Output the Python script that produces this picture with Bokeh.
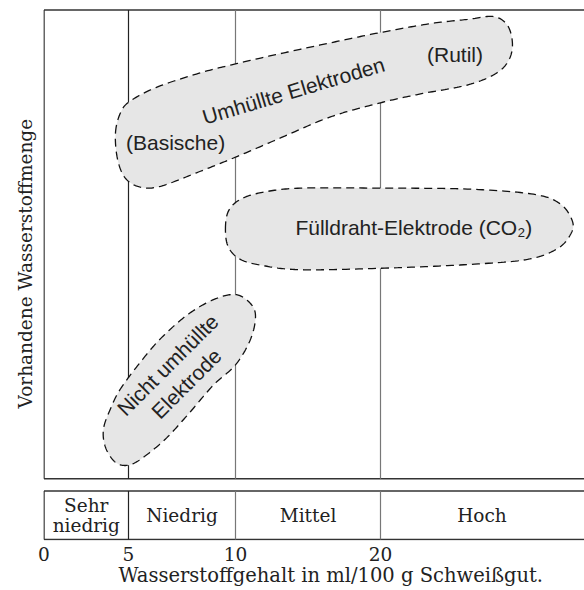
import numpy as np
from bokeh.plotting import figure
from bokeh.models import Range1d, FixedTicker, Title
from bokeh.core.properties import value
from bokeh.embed import file_html
from bokeh.resources import INLINE

# ---------------- data ----------------
# x axis: hydrogen content (ml/100 g weld metal), printed on a non-linear scale
TICK_VALUES = [0, 5, 10, 20]
TICK_LABELS = ["0", "5", "10", "20"]
SCALE_VALUES = [0, 5, 10, 20, 40]          # value -> position on printed scale
SCALE_POS = [0.0, 84.5, 191.5, 336.5, 626.5]

CLASS_NAMES = ["Sehr\nniedrig", "Niedrig", "Mittel", "Hoch"]
CLASS_BOUNDS = [0, 5, 10, 20, 34]

# regions (x = ml/100 g, y = relative available hydrogen 0..100)
COATED_X = [4.23, 4.53, 5.09, 6.36, 8.36, 10.0, 13.1, 16.55, 20.0, 23.45, 26.0, 27.8,
            28.76, 29.1, 28.83, 27.93, 26.0, 22.76, 20.0, 16.55, 13.1, 10.0, 8.36,
            6.5, 5.56, 4.82, 4.35]
COATED_Y = [73.8, 78.1, 80.6, 83.6, 86.6, 88.5, 90.7, 93.0, 95.2, 97.1, 98.0, 98.6,
            96.7, 92.8, 89.2, 86.4, 84.0, 82.1, 80.2, 77.2, 72.7, 68.6, 65.6,
            62.4, 62.2, 64.1, 68.2]

FLUX_X = [9.53, 9.67, 10.34, 11.86, 14.48, 20.0, 26.0, 30.55, 32.41, 33.24, 33.1, 32.2,
          30.14, 26.0, 20.0, 14.48, 11.86, 10.34, 9.67]
FLUX_Y = [53.2, 57.1, 59.6, 61.1, 62.0, 62.0, 61.8, 60.7, 58.6, 54.9, 52.1, 49.1,
          46.8, 45.7, 44.9, 44.6, 45.5, 46.8, 49.4]

BARE_X = [10.0, 11.03, 11.38, 11.03, 10.0, 8.97, 7.76, 6.73, 5.7, 5.0, 4.23, 3.64,
          3.52, 3.93, 4.53, 5.56, 6.5, 7.76, 8.97]
BARE_Y = [39.3, 37.4, 34.6, 29.7, 24.3, 20.0, 13.6, 8.5, 4.6, 2.9, 3.5, 6.7,
          10.6, 14.9, 19.2, 24.9, 29.9, 35.0, 38.2]

REGION_TEXT = ["Umhüllte Elektroden", "(Basische)", "(Rutil)",
               "Fülldraht-Elektrode (CO₂)", "Nicht umhüllte\nElektrode"]
REGION_TEXT_X = [14.0, 7.2, 25.14, 22.3, 7.27]
REGION_TEXT_Y = [82.8, 71.7, 90.5, 53.5, 22.3]
REGION_TEXT_ANGLE = [16.6, 0, 0, 0, 45]

X_TITLE = "Wasserstoffgehalt in ml/100 g Schweißgut."
Y_TITLE = "Vorhandene Wasserstoffmenge"


def xpos(v):
    return np.interp(np.asarray(v, dtype=float), SCALE_VALUES, SCALE_POS)


def smooth_closed(xs, ys, n=20):
    P = np.column_stack([xs, ys])
    N = len(P)
    t = np.linspace(0, 1, n, endpoint=False)[:, None]
    out = []
    for i in range(N):
        p0, p1, p2, p3 = P[i - 1], P[i], P[(i + 1) % N], P[(i + 2) % N]
        out.append(0.5 * (2 * p1 + (-p0 + p2) * t
                          + (2 * p0 - 5 * p1 + 4 * p2 - p3) * t ** 2
                          + (-p0 + 3 * p1 - 3 * p2 + p3) * t ** 3))
    out = np.vstack(out + [P[:1]])
    return out[:, 0], out[:, 1]


SERIF = value("DejaVu Serif")
SANS = value("Liberation Sans")
INK = "#222222"

X_END = 540.5
BAND_TOP, BAND_BOTTOM = -2.6, -12.95

p = figure(width=584, height=590, output_backend="svg", toolbar_location=None,
           title=None, x_range=Range1d(-0.5, X_END), y_range=Range1d(-13.17, 100.32),
           min_border_left=43, min_border_right=0, min_border_top=8, min_border_bottom=50)
p.outline_line_color = None
p.grid.visible = False
p.yaxis.visible = False
p.background_fill_color = "white"
p.border_fill_color = "white"

# frame lines of the diagram
p.segment(x0=[0, 0, 0], y0=[100, 0, 0], x1=[X_END + 5, X_END + 5, 0], y1=[100, 0, 100],
          line_color="#333333", line_width=1.5)
# class band
p.segment(x0=[0, 0, 0], y0=[BAND_TOP, BAND_BOTTOM, BAND_TOP],
          x1=[X_END + 5, X_END + 5, 0], y1=[BAND_TOP, BAND_BOTTOM, BAND_BOTTOM],
          line_color="#333333", line_width=1.5)

bx = xpos(CLASS_BOUNDS[1:4])
vcol = ["#222222", "#777777", "#777777"]
p.segment(x0=bx, y0=[100] * 3, x1=bx, y1=[0] * 3, line_color=vcol, line_width=1.2)
p.segment(x0=bx, y0=[BAND_TOP] * 3, x1=bx, y1=[BAND_BOTTOM] * 3, line_color=vcol, line_width=1.2)

# regions
for rx, ry in [(COATED_X, COATED_Y), (FLUX_X, FLUX_Y), (BARE_X, BARE_Y)]:
    sx, sy = smooth_closed(xpos(rx), ry)
    p.patch(sx, sy, fill_color="#e6e6e6", line_color="#111111", line_width=1.3,
            line_dash="8 5")

p.text(x=xpos(REGION_TEXT_X), y=REGION_TEXT_Y, text=REGION_TEXT,
       angle=np.radians(REGION_TEXT_ANGLE), text_align="center", text_baseline="middle",
       text_font=SANS, text_font_size="21px", text_color=INK, text_line_height=1.15)

# class names
lo = xpos(CLASS_BOUNDS[:-1])
hi = xpos(CLASS_BOUNDS[1:])
p.text(x=(lo + hi) / 2, y=[(BAND_TOP + BAND_BOTTOM) / 2] * 4, text=CLASS_NAMES,
       text_align="center", text_baseline="middle", text_font=SERIF,
       text_font_size="18.5px", text_color=INK, text_line_height=0.95)

# x axis
tp = [float(v) for v in xpos(TICK_VALUES)]
p.xaxis.ticker = FixedTicker(ticks=tp)
p.xaxis.major_label_overrides = {k: s for k, s in zip(tp, TICK_LABELS)}
p.xaxis.axis_line_color = None
p.xaxis.major_tick_line_color = None
p.xaxis.minor_tick_line_color = None
p.xaxis.major_tick_out = 0
p.xaxis.major_tick_in = 0
p.xaxis.major_label_standoff = 6
p.xaxis.major_label_text_font = "DejaVu Serif"
p.xaxis.major_label_text_font_size = "18.5px"
p.xaxis.major_label_text_color = INK

p.add_layout(Title(text=X_TITLE, align="left", offset=75, standoff=0,
                   vertical_align="top", text_font="DejaVu Serif",
                   text_font_size="19.5px", text_font_style="normal", text_color=INK), "below")
p.add_layout(Title(text=Y_TITLE, align="left", offset=132, standoff=14,
                   vertical_align="middle", text_font="DejaVu Serif",
                   text_font_size="18.5px", text_font_style="normal", text_color=INK), "left")

open("out.html", "w").write(file_html(p, INLINE))
